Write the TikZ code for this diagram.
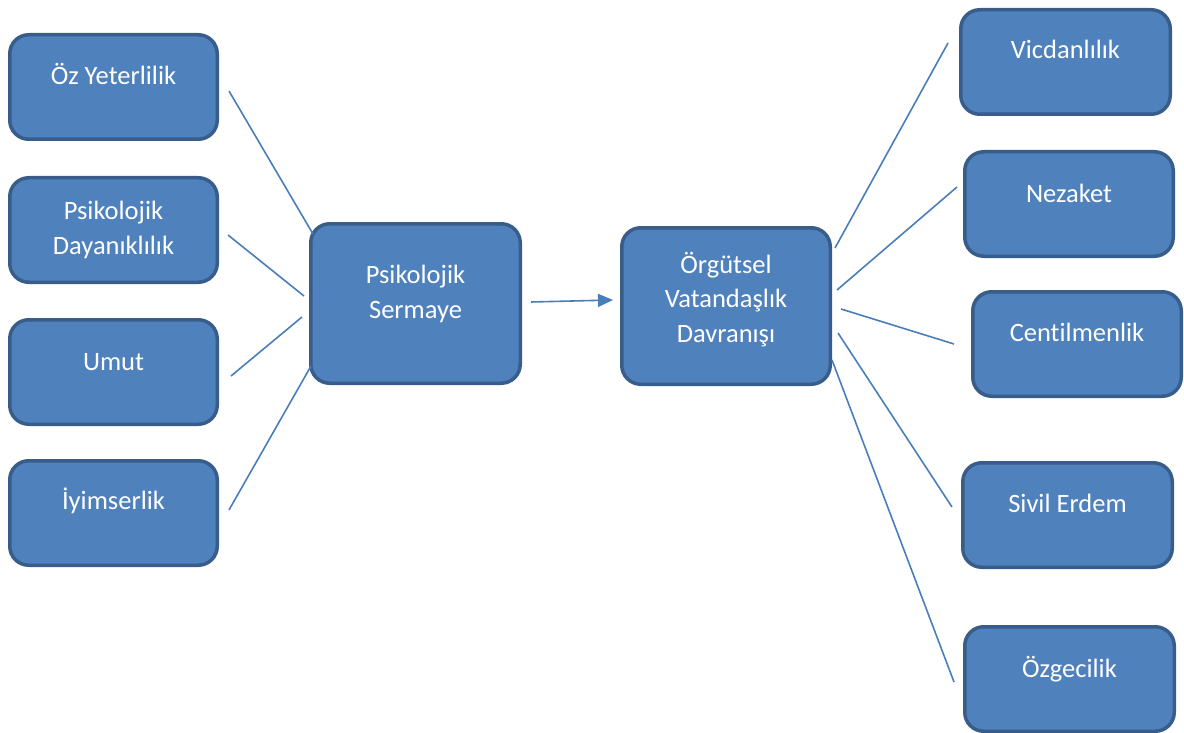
\documentclass[tikz,border=0pt]{standalone}
\usepackage{fontspec}
\setmainfont[Ligatures={NoCommon}]{Carlito}
\usetikzlibrary{arrows.meta}
\definecolor{boxfill}{HTML}{4F81BD}
\definecolor{boxline}{HTML}{385D8A}
\definecolor{connline}{HTML}{4A7EBB}
\tikzset{
  boxnode/.style={draw=boxline, fill=boxfill, line width=3.5pt, rounded corners=19pt,
    inner sep=0pt, minimum height=104.5pt, minimum width=208pt},
  lbl/.style={text=white, align=center, anchor=base, inner sep=0pt,
    font=\fontsize{26.5pt}{34.5pt}\selectfont},
  conn/.style={draw=connline, line width=1.6pt},
  arr/.style={conn, -{Triangle[length=15pt,width=13pt]}}
}
\begin{document}
\begin{tikzpicture}[x=1pt,y=-1pt]
\useasboundingbox (0,0) rectangle (1184,733);
% left boxes
\node[boxnode, minimum width=207.5pt] (oz) at (113.5,87) {};
\node[boxnode, minimum width=207.5pt] (pd) at (113.5,230) {};
\node[boxnode, minimum width=207.5pt] (um) at (113.5,372) {};
\node[boxnode, minimum width=207.5pt] (iy) at (113.5,513) {};
% centre boxes
\node[boxnode, minimum width=209.5pt, minimum height=159.5pt] (ps) at (415.5,303.5) {};
\node[boxnode, minimum width=208.5pt, minimum height=156.5pt] (ovd) at (726,306) {};
% right boxes
\node[boxnode, minimum width=209.5pt] (vic) at (1065.5,62) {};
\node[boxnode, minimum width=208.5pt] (nez) at (1069,204) {};
\node[boxnode, minimum width=208.5pt] (cen) at (1077,344) {};
\node[boxnode, minimum width=209.5pt] (siv) at (1067.5,515) {};
\node[boxnode, minimum width=209.5pt] (ozg) at (1069.5,679) {};
% labels (anchor = baseline of the last line)
\node[lbl] (oz-t) at (113.5,85) {Öz Yeterlilik};
\node[lbl] (pd-t) at (113.5,254) {Psikolojik\\Dayanıklılık};
\node[lbl] (um-t) at (113.5,370) {Umut};
\node[lbl] (iy-t) at (113.5,509) {İyimserlik};
\node[lbl] (ps-t) at (415.5,318) {Psikolojik\\Sermaye};
\node[lbl] (ovd-t) at (726,342) {Örgütsel\\Vatandaşlık\\Davranışı};
\node[lbl] (vic-t) at (1065.5,59) {Vicdanlılık};
\node[lbl] (nez-t) at (1069,202) {Nezaket};
\node[lbl] (cen-t) at (1077,341) {Centilmenlik};
\node[lbl] (siv-t) at (1067.5,512) {Sivil Erdem};
\node[lbl] (ozg-t) at (1069.5,677) {Özgecilik};
% connector ends
\coordinate (oz-e) at (229,91);
\coordinate (pd-e) at (228,235);
\coordinate (um-e) at (231,376);
\coordinate (iy-e) at (229,510);
\coordinate (ps-w1) at (313,234);
\coordinate (ps-w2) at (304,296);
\coordinate (ps-w3) at (302,317);
\coordinate (ps-w4) at (311,366);
\coordinate (ps-e) at (531,302);
\coordinate (ovd-w) at (613,300);
\coordinate (ovd-e1) at (835,248);
\coordinate (ovd-e2) at (837,290);
\coordinate (ovd-e3) at (841,309);
\coordinate (ovd-e4) at (838,333);
\coordinate (ovd-e5) at (832,360);
\coordinate (vic-w) at (948,43);
\coordinate (nez-w) at (957,187);
\coordinate (cen-w) at (954,344);
\coordinate (siv-w) at (952,507);
\coordinate (ozg-w) at (954,682);
% connectors
\draw[conn] (oz-e) -- (ps-w1);
\draw[conn] (pd-e) -- (ps-w2);
\draw[conn] (um-e) -- (ps-w3);
\draw[conn] (iy-e) -- (ps-w4);
\draw[arr] (ps-e) -- (ovd-w);
\draw[conn] (ovd-e1) -- (vic-w);
\draw[conn] (ovd-e2) -- (nez-w);
\draw[conn] (ovd-e3) -- (cen-w);
\draw[conn] (ovd-e4) -- (siv-w);
\draw[conn] (ovd-e5) -- (ozg-w);
\end{tikzpicture}
\end{document}
